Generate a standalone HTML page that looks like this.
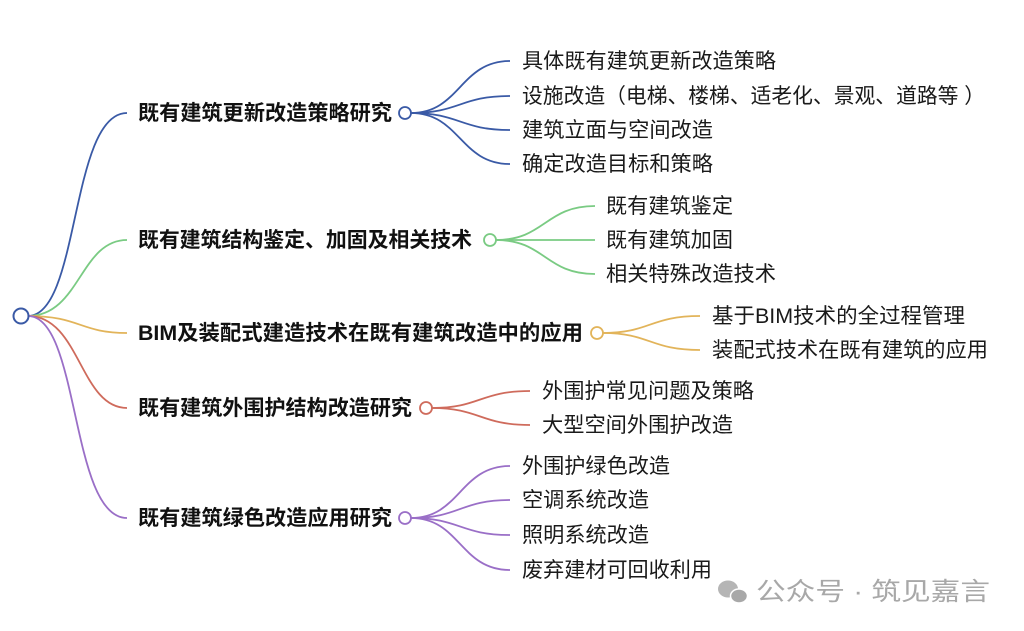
<!DOCTYPE html>
<html><head><meta charset="utf-8"><style>
html,body{margin:0;padding:0;background:#fff;}
svg{display:block}
text{font-family:"Liberation Sans","Noto Sans CJK SC",sans-serif;}
.b{font-size:21px;font-weight:bold;fill:#111;}
.c{font-size:21px;fill:#1a1a1a;}
path{fill:none;stroke-width:1.8}
</style></head><body>
<svg width="1024" height="631" viewBox="0 0 1024 631">
<path d="M28 316 C 80 316, 70 113, 127 113" stroke="#3a5aa6"/>
<path d="M28 316 C 80 316, 80 240, 127 240" stroke="#7acb83"/>
<path d="M28 316 C 80 316, 80 333, 127 333" stroke="#e2b45a"/>
<path d="M28 316 C 80 316, 80 408, 127 408" stroke="#cf6b5c"/>
<path d="M28 316 C 80 316, 70 518, 127 518" stroke="#9a6fc7"/>
<circle cx="21" cy="316" r="7.5" fill="#fff" stroke="#3a5aa6" stroke-width="2"/>

<text class="b" x="138" y="120" textLength="254" lengthAdjust="spacingAndGlyphs">既有建筑更新改造策略研究</text>
<text class="b" x="138" y="247" textLength="334" lengthAdjust="spacingAndGlyphs">既有建筑结构鉴定、加固及相关技术</text>
<text class="b" x="138" y="340" textLength="445" lengthAdjust="spacingAndGlyphs">BIM及装配式建造技术在既有建筑改造中的应用</text>
<text class="b" x="138" y="415" textLength="274" lengthAdjust="spacingAndGlyphs">既有建筑外围护结构改造研究</text>
<text class="b" x="138" y="525" textLength="254" lengthAdjust="spacingAndGlyphs">既有建筑绿色改造应用研究</text>

<g stroke="#3a5aa6">
<path d="M411 113 C 460 113, 460 61, 510 61"/>
<path d="M411 113 C 460 113, 460 96, 510 96"/>
<path d="M411 113 C 460 113, 460 130, 510 130"/>
<path d="M411 113 C 460 113, 460 164, 510 164"/>
</g>
<circle cx="405" cy="113" r="6" fill="#fff" stroke="#3a5aa6" stroke-width="1.8"/>
<text class="c" x="522" y="68" textLength="254" lengthAdjust="spacingAndGlyphs">具体既有建筑更新改造策略</text>
<text class="c" x="522" y="103" textLength="463" lengthAdjust="spacingAndGlyphs">设施改造（电梯、楼梯、适老化、景观、道路等 ）</text>
<text class="c" x="522" y="137" textLength="191" lengthAdjust="spacingAndGlyphs">建筑立面与空间改造</text>
<text class="c" x="522" y="171" textLength="191" lengthAdjust="spacingAndGlyphs">确定改造目标和策略</text>

<g stroke="#7acb83">
<path d="M496 240 C 545 240, 545 206, 595 206"/>
<path d="M496 240 L 595 240"/>
<path d="M496 240 C 545 240, 545 274, 595 274"/>
</g>
<circle cx="490" cy="240" r="6" fill="#fff" stroke="#7acb83" stroke-width="1.8"/>
<text class="c" x="606" y="213" textLength="127" lengthAdjust="spacingAndGlyphs">既有建筑鉴定</text>
<text class="c" x="606" y="247" textLength="127" lengthAdjust="spacingAndGlyphs">既有建筑加固</text>
<text class="c" x="606" y="281" textLength="170" lengthAdjust="spacingAndGlyphs">相关特殊改造技术</text>

<g stroke="#e2b45a">
<path d="M603 333 C 650 333, 650 316, 700 316"/>
<path d="M603 333 C 650 333, 650 350, 700 350"/>
</g>
<circle cx="597" cy="333" r="6" fill="#fff" stroke="#e2b45a" stroke-width="1.8"/>
<text class="c" x="712" y="323" textLength="253" lengthAdjust="spacingAndGlyphs">基于BIM技术的全过程管理</text>
<text class="c" x="712" y="357" textLength="276" lengthAdjust="spacingAndGlyphs">装配式技术在既有建筑的应用</text>

<g stroke="#cf6b5c">
<path d="M432 408 C 480 408, 480 391, 530 391"/>
<path d="M432 408 C 480 408, 480 425, 530 425"/>
</g>
<circle cx="426" cy="408" r="6" fill="#fff" stroke="#cf6b5c" stroke-width="1.8"/>
<text class="c" x="542" y="398" textLength="212" lengthAdjust="spacingAndGlyphs">外围护常见问题及策略</text>
<text class="c" x="542" y="432" textLength="191" lengthAdjust="spacingAndGlyphs">大型空间外围护改造</text>

<g stroke="#9a6fc7">
<path d="M411 518 C 460 518, 460 466, 510 466"/>
<path d="M411 518 C 460 518, 460 500, 510 500"/>
<path d="M411 518 C 460 518, 460 535, 510 535"/>
<path d="M411 518 C 460 518, 460 570, 510 570"/>
</g>
<circle cx="405" cy="518" r="6" fill="#fff" stroke="#9a6fc7" stroke-width="1.8"/>
<text class="c" x="522" y="473" textLength="148" lengthAdjust="spacingAndGlyphs">外围护绿色改造</text>
<text class="c" x="522" y="507" textLength="127" lengthAdjust="spacingAndGlyphs">空调系统改造</text>
<text class="c" x="522" y="542" textLength="127" lengthAdjust="spacingAndGlyphs">照明系统改造</text>
<text class="c" x="522" y="577" textLength="190" lengthAdjust="spacingAndGlyphs">废弃建材可回收利用</text>

<g fill="#b5b5b5">
<ellipse cx="728" cy="589" rx="10" ry="8.5"/>
<ellipse cx="739" cy="596" rx="8.5" ry="7" fill="#a8a8a8" stroke="#fff" stroke-width="1.5"/>
</g>
<text x="756" y="600" textLength="234" lengthAdjust="spacingAndGlyphs" style="font-size:25px;fill:#a8a8a8">公众号 · 筑见嘉言</text>
</svg>
</body></html>
